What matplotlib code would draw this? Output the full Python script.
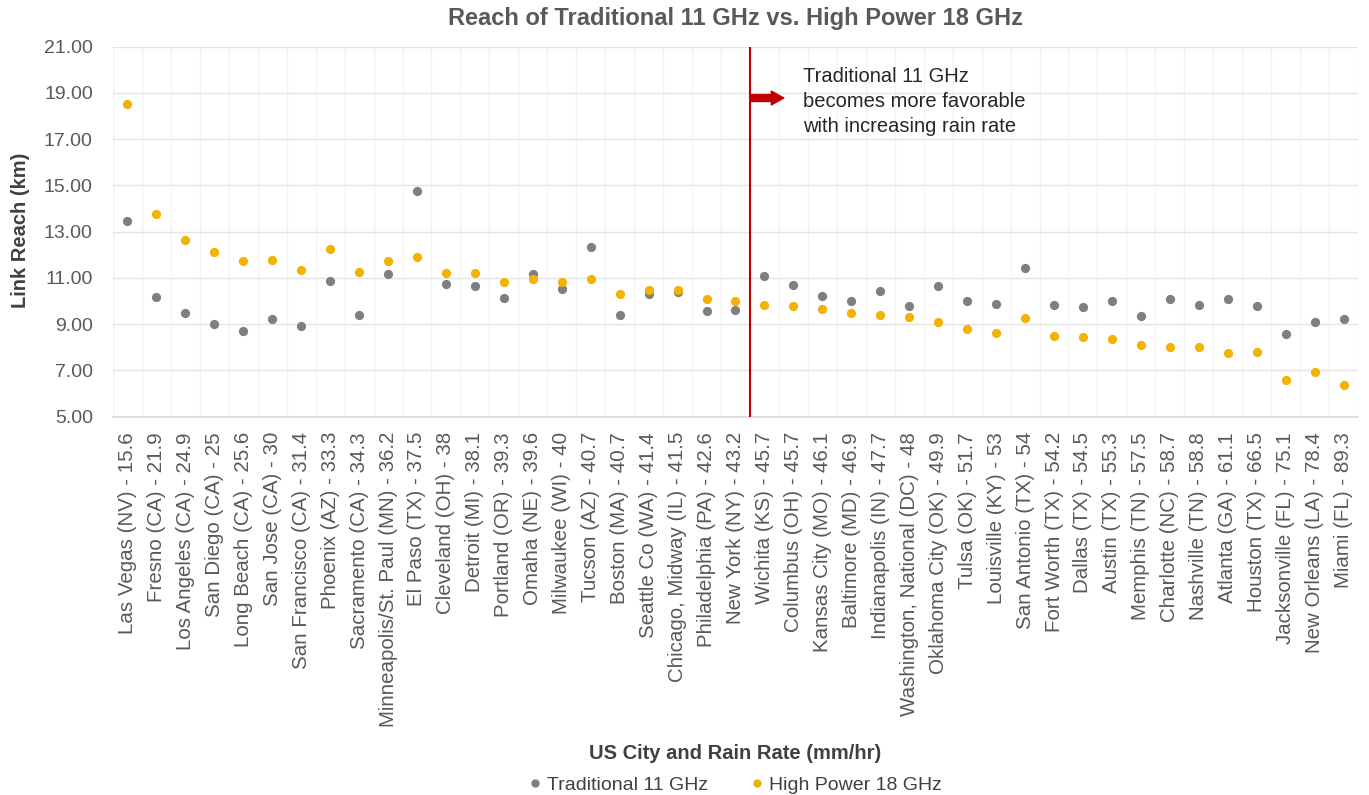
import matplotlib
matplotlib.use("Agg")
import matplotlib.pyplot as plt
from matplotlib.lines import Line2D
import numpy as np

cities = [
    "Las Vegas (NV) - 15.6", "Fresno (CA) - 21.9", "Los Angeles (CA) - 24.9", "San Diego (CA) - 25",
    "Long Beach (CA) - 25.6", "San Jose (CA) - 30", "San Francisco (CA) - 31.4", "Phoenix (AZ) - 33.3",
    "Sacramento (CA) - 34.3", "Minneapolis/St. Paul (MN) - 36.2", "El Paso (TX) - 37.5",
    "Cleveland (OH) - 38", "Detroit (MI) - 38.1", "Portland (OR) - 39.3", "Omaha (NE) - 39.6",
    "Milwaukee (WI) - 40", "Tucson (AZ) - 40.7", "Boston (MA) - 40.7", "Seattle Co (WA) - 41.4",
    "Chicago, Midway (IL) - 41.5", "Philadelphia (PA) - 42.6", "New York (NY) - 43.2",
    "Wichita (KS) - 45.7", "Columbus (OH) - 45.7", "Kansas City (MO) - 46.1", "Baltimore (MD) - 46.9",
    "Indianapolis (IN) - 47.7", "Washington, National (DC) - 48", "Oklahoma City (OK) - 49.9",
    "Tulsa (OK) - 51.7", "Louisville (KY) - 53", "San Antonio (TX) - 54", "Fort Worth (TX) - 54.2",
    "Dallas (TX) - 54.5", "Austin (TX) - 55.3", "Memphis (TN) - 57.5", "Charlotte (NC) - 58.7",
    "Nashville (TN) - 58.8", "Atlanta (GA) - 61.1", "Houston (TX) - 66.5", "Jacksonville (FL) - 75.1",
    "New Orleans (LA) - 78.4", "Miami (FL) - 89.3",
]

trad_11 = [13.48, 10.19, 9.47, 9.00, 8.69, 9.24, 8.94, 10.87, 9.38, 11.17, 14.76,
           10.73, 10.67, 10.15, 11.17, 10.51, 12.34, 9.40, 10.31, 10.41, 9.57, 9.61,
           11.07, 10.68, 10.22, 10.00, 10.42, 9.77, 10.67, 10.02, 9.86, 11.43, 9.82,
           9.74, 10.02, 9.37, 10.09, 9.82, 10.09, 9.79, 8.56, 9.10, 9.24]

hp_18 = [18.51, 13.75, 12.64, 12.11, 11.73, 11.76, 11.34, 12.25, 11.27, 11.73, 11.89,
         11.20, 11.20, 10.81, 10.96, 10.81, 10.94, 10.32, 10.49, 10.49, 10.09, 10.00,
         9.83, 9.80, 9.66, 9.48, 9.41, 9.31, 9.11, 8.81, 8.63, 9.27, 8.49,
         8.45, 8.36, 8.09, 8.00, 8.00, 7.74, 7.81, 6.60, 6.95, 6.37]

yticks = [5, 7, 9, 11, 13, 15, 17, 19, 21]
divider_pos = 21.5
note_text = "Traditional 11 GHz\nbecomes more favorable\nwith increasing rain rate"

plt.rcParams['font.family'] = ['Liberation Sans', 'DejaVu Sans']

GREY = '#7f7f7f'
GOLD = '#f2b200'

fig = plt.figure(figsize=(13.69, 7.95), dpi=100)
ax = fig.add_axes([0.0825, 0.4758, 0.9095, 0.4655])

x = np.arange(len(cities))
ax.scatter(x, trad_11, s=44, color=GREY, zorder=3, linewidths=0)
ax.scatter(x, hp_18, s=44, color=GOLD, zorder=3, linewidths=0)

ax.set_xlim(-0.5, len(cities) - 0.5)
ax.set_ylim(5, 21)
ax.set_yticks(yticks)
ax.set_yticklabels([f"{v:.2f}" for v in yticks])
ax.set_xticks(x)
ax.set_xticklabels(cities, rotation=90)
ax.set_xticks(np.arange(-0.5, len(cities), 1.0), minor=True)

ax.tick_params(axis='both', which='both', length=0, labelcolor='#595959')
ax.tick_params(axis='x', pad=11, labelsize=14.8)
ax.tick_params(axis='y', pad=14.5, labelsize=14)

ax.grid(axis='y', which='major', color='#e4e4e4', linewidth=1.0)
ax.grid(axis='x', which='minor', color='#f3f3f3', linewidth=1.0)
ax.grid(axis='x', which='major', visible=False)
ax.set_axisbelow(True)

for s in ['top', 'right', 'left']:
    ax.spines[s].set_visible(False)
ax.spines['bottom'].set_color('#d9d9d9')
ax.spines['bottom'].set_linewidth(1.2)

# divider
ax.axvline(divider_pos, color='#c00000', linewidth=1.5, zorder=4)
ax.annotate('', xy=(divider_pos + 1.17, 18.78), xytext=(divider_pos, 18.78),
            arrowprops=dict(arrowstyle='simple,head_length=0.9,head_width=1.0,tail_width=0.5',
                            color='#c00000', shrinkA=0, shrinkB=0), zorder=5)
ax.text(23.32, 20.1, note_text, fontsize=14.5, color='#262626', va='top', ha='left',
        linespacing=1.38)

fig.text(0.5373, 1 - 18 / 795, "Reach of Traditional 11 GHz vs. High Power 18 GHz", fontsize=17,
         fontweight='bold', color='#595959', ha='center', va='center')

ax.set_ylabel("Link Reach (km)", fontsize=14.5, fontweight='bold', color='#404040')
ax.yaxis.set_label_coords(-0.0667, 0.505)
ax.set_xlabel("US City and Rain Rate (mm/hr)", fontsize=14.5, fontweight='bold', color='#404040')
ax.xaxis.set_label_coords(0.5, -0.885)

handles = [Line2D([], [], marker='o', linestyle='', color=GREY, markersize=5),
           Line2D([], [], marker='o', linestyle='', color=GOLD, markersize=5)]
leg = ax.legend(handles, ["Traditional 11 GHz", "High Power 18 GHz"], loc='center',
                bbox_to_anchor=(0.5, -0.995), ncol=2, frameon=False, fontsize=14,
                handlelength=0.6, handletextpad=0.3, columnspacing=2.2)
for t in leg.get_texts():
    t.set_color('#404040')

fig.savefig("out.png", dpi=100, facecolor='white')
